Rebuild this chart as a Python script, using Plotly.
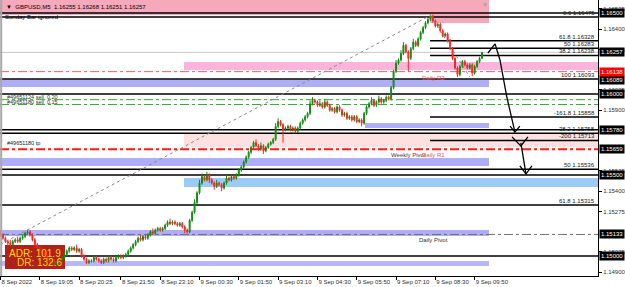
import plotly.graph_objects as go

# ---------------- data ----------------
BASE = 1.15000
PIP = 0.0001

FIRST_OPEN = 15  # pips above BASE
CLOSE = [13, 11, 9, 8, 7, 9, 10, 9, 11, 12,
         14, 15, 13, 10, 7, 5, 4, 2, 0, -2,
         -4, -3, -5, -4, -2, -1, 1, 3, 5, 4,
         5, 3, 4, 0, -2, -4, -3, -3, -1, -2,
         -3, -4, -2, -3, -1, -2, -3, -1, 0, -1,
         0, 1, 3, 5, 7, 9, 11, 10, 12, 11,
         13, 15, 14, 16, 17, 16, 17, 19, 21, 20,
         21, 20, 19, 20, 18, 16, 15, 22, 27, 33,
         39, 45, 49, 47, 50, 47, 45, 43, 45, 44,
         42, 45, 48, 47, 49, 48, 50, 53, 55, 58,
         61, 64, 67, 70, 68, 66, 68, 65, 67, 69,
         70, 72, 80, 83, 81, 78, 79, 80, 78, 79,
         77, 79, 82, 84, 86, 88, 94, 96, 95, 93,
         94, 92, 95, 93, 90, 91, 89, 92, 90, 87,
         88, 85, 86, 84, 86, 83, 84, 82, 88, 92,
         94, 96, 93, 95, 97, 95, 96, 98, 97, 104,
         114, 119, 121, 125, 130, 126, 122, 128, 132, 130,
         134, 138, 141, 144, 146, 148, 145, 142, 143, 139,
         136, 137, 133, 128, 122, 116, 112, 117, 120, 118,
         116, 118, 113, 117, 120, 122, 125.7]
UPPER_WICK = [1, 1, 1, 1, 2, 1, 1, 2, 1, 1,
              1, 1, 1, 1, 1, 1, 1, 1, 1, 1,
              1, 2, 1, 1, 1, 1, 1, 1, 1, 1,
              1, 2, 1, 1, 1, 1, 1, 1, 1, 1,
              1, 1, 1, 1, 1, 1, 1, 1, 1, 1,
              1, 1, 1, 1, 1, 1, 1, 2, 1, 1,
              1, 1, 2, 1, 1, 1, 1, 1, 1, 2,
              1, 1, 1, 1, 1, 1, 1, 1, 1, 2,
              1, 2, 2, 1, 2, 1, 1, 1, 2, 1,
              1, 1, 2, 1, 1, 1, 1, 1, 1, 1,
              1, 1, 1, 1, 2, 1, 2, 1, 1, 1,
              1, 1, 2, 2, 1, 1, 1, 1, 1, 1,
              1, 1, 1, 1, 1, 1, 2, 2, 1, 1,
              2, 1, 2, 1, 1, 1, 1, 1, 1, 1,
              1, 1, 1, 1, 1, 1, 1, 1, 1, 1,
              1, 2, 1, 1, 2, 1, 1, 1, 1, 1,
              1, 2, 1, 2, 2, 1, 1, 1, 2, 1,
              1, 1, 1, 1, 1, 1, 1, 1, 1, 1,
              1, 1, 1, 1, 1, 1, 1, 1, 1, 1,
              1, 1, 1, 1, 1, 1, 0.3]
LOWER_WICK = [1, 1, 1, 2, 1, 1, 1, 1, 1, 1,
              1, 1, 1, 1, 2, 1, 1, 1, 1, 1,
              1, 1, 1, 1, 1, 1, 1, 1, 1, 1,
              1, 1, 1, 1, 1, 1, 1, 1, 1, 1,
              1, 1, 1, 1, 1, 1, 1, 1, 1, 1,
              1, 1, 1, 1, 1, 1, 1, 1, 1, 1,
              1, 1, 1, 1, 1, 1, 1, 1, 1, 1,
              1, 1, 1, 1, 1, 2, 1, 1, 1, 1,
              1, 1, 1, 1, 1, 2, 1, 2, 1, 1,
              2, 1, 1, 1, 1, 1, 1, 1, 1, 1,
              1, 1, 1, 1, 1, 1, 1, 2, 1, 1,
              1, 1, 1, 1, 1, 8, 1, 1, 1, 1,
              1, 1, 1, 1, 1, 1, 1, 1, 1, 1,
              1, 1, 1, 1, 1, 1, 1, 1, 1, 1,
              1, 1, 1, 1, 1, 1, 1, 2, 1, 1,
              1, 1, 1, 1, 1, 1, 1, 1, 1, 1,
              1, 1, 1, 1, 1, 1, 8, 1, 1, 1,
              1, 1, 1, 1, 1, 1, 1, 1, 1, 1,
              1, 1, 1, 1, 1, 1, 1.5, 1, 1, 1,
              1, 1, 2, 1, 1, 1, 0.2]

DATE_TICK_BARS = [0, 16, 32, 49, 65, 81, 97, 113, 129, 145, 161, 177, 193]
DATE_TICK_TEXT = ["8 Sep 2022", "8 Sep 19:05", "8 Sep 20:25", "8 Sep 21:50",
                  "8 Sep 23:10", "9 Sep 00:30", "9 Sep 01:50", "9 Sep 03:10",
                  "9 Sep 04:30", "9 Sep 05:50", "9 Sep 07:10", "9 Sep 08:30",
                  "9 Sep 09:50"]

# visible (or partly visible) right-axis tick labels
PRICE_TICKS = [1.16525, 1.16400, 1.16275, 1.16025, 1.15900,
               1.15525, 1.15400, 1.15275, 1.15025, 1.14900]

BLACK_TAGS = [1.16500, 1.16257, 1.16089, 1.16000, 1.15780, 1.15659, 1.15500, 1.15133, 1.15000]
RED_TAGS = [1.16138]

FULL_LEVELS = [1.16500, 1.16475, 1.16093, 1.16000, 1.15780, 1.15758, 1.15536, 1.15500, 1.15315, 1.15000]
FIB_LEVELS = [1.16328, 1.16283, 1.16238, 1.15858, 1.15713]

FIB_LABELS = [("0.0 1.16475", 1.16475), ("61.8 1.16328", 1.16328), ("50 1.16283", 1.16283),
              ("38.2 1.16238", 1.16238), ("100 1.16093", 1.16093), ("-161.8 1.15858", 1.15858),
              ("38.2 1.15758", 1.15758), ("-200 1.15713", 1.15713), ("50 1.15536", 1.15536),
              ("61.8 1.15315", 1.15315)]

BID = 1.16257
DAILY_R2 = 1.16138
SELL_LEVELS = [1.15965, 1.15935]
TP_LEVEL = 1.15659
DAILY_PIVOT = 1.15133

# zones: (left px, right px, top price, bottom price, colour)
ZONES = [
    (0, 489, 1.165802, 1.164877, "#f5a9bb"),
    (430, 489, 1.164877, 1.164383, "#f5a9bb"),
    (184, 598, 1.161975, 1.161481, "#fbb4da"),
    (0, 489, 1.160895, 1.160432, "#aeaef8"),
    (365, 489, 1.158210, 1.157901, "#aeaef8"),
    (184, 598, 1.157531, 1.156728, "#fde1e1"),
    (0, 489, 1.156049, 1.155556, "#aeaef8"),
    (184, 598, 1.154815, 1.154259, "#9dcbf7"),
    (0, 489, 1.151605, 1.151235, "#aeaef8"),
    (0, 489, 1.149691, 1.149383, "#b6b6f8"),
]

TREND_MAIN = [(0, 1.15072), (175, 1.16485)]
TREND_SMALL = [(175, 1.16485), (191, 1.16105)]

ARROW1 = [(198.4, 1.16253), (201.3, 1.16309), (203.3, 1.16210), (206.1, 1.15981), (209.4, 1.15765)]
HEAD1 = [(207.4, 1.15802), (209.4, 1.15765), (211.4, 1.15802)]
VEE2 = [(208.2, 1.15735), (211.8, 1.15679), (214.7, 1.15735)]
ARROW2 = [(211.8, 1.15698), (213.9, 1.15506)]
HEAD2 = [(211.4, 1.15556), (213.9, 1.15506), (216.3, 1.15556)]

# ---------------- build ----------------
n = len(CLOSE)
opens = [FIRST_OPEN] + CLOSE[:-1]
highs = [max(o, c) + u for o, c, u in zip(opens, CLOSE, UPPER_WICK)]
lows = [min(o, c) - l for o, c, l in zip(opens, CLOSE, LOWER_WICK)]
to_price = lambda arr: [round(BASE + v * PIP, 6) for v in arr]

PLOT_W = 598.0
FONT = "Liberation Sans"

fig = go.Figure()

fig.add_trace(go.Candlestick(
    x=list(range(n)), open=to_price(opens), high=to_price(highs),
    low=to_price(lows), close=to_price(CLOSE),
    increasing=dict(line=dict(color="#138a13", width=1), fillcolor="#1fa51f"),
    decreasing=dict(line=dict(color="#ff2020", width=1), fillcolor="#ff3535"),
    whiskerwidth=0, showlegend=False, hoverinfo="skip"))

def line_trace(pts, color, width, dash="solid"):
    fig.add_trace(go.Scatter(x=[p[0] for p in pts], y=[p[1] for p in pts], mode="lines",
                             line=dict(color=color, width=width, dash=dash),
                             showlegend=False, hoverinfo="skip"))

line_trace(TREND_MAIN, "#8a8a8a", 1, "dot")
line_trace(TREND_SMALL, "#8a8a8a", 1, "dot")
for pts in (ARROW1, HEAD1, VEE2, ARROW2, HEAD2):
    line_trace(pts, "#000000", 1.3)

shapes = []
for x0, x1, top, bot, col in ZONES:
    shapes.append(dict(type="rect", xref="paper", yref="y", x0=x0 / PLOT_W, x1=x1 / PLOT_W,
                       y0=bot, y1=top, fillcolor=col, line=dict(width=0), layer="below"))

def hline(price, x0=0.0, color="#000000", width=1.5, dash="solid"):
    shapes.append(dict(type="line", xref="paper", yref="y", x0=x0, x1=1, y0=price, y1=price,
                       line=dict(color=color, width=width, dash=dash), layer="below"))

hline(BID, color="#c8c8c8", width=1)
hline(DAILY_R2, color="#f06060", width=1, dash="dashdot")
for p in SELL_LEVELS:
    hline(p, color="#3aa83a", width=1, dash="dashdot")
hline(DAILY_PIVOT, color="#707070", width=1, dash="dashdot")
for p in FULL_LEVELS:
    hline(p)
for p in FIB_LEVELS:
    hline(p, x0=430 / PLOT_W)
hline(TP_LEVEL, color="#ff1a1a", width=2.2, dash="dashdot")

# ADR box
shapes.append(dict(type="rect", xref="paper", yref="y", x0=5 / PLOT_W, x1=65 / PLOT_W,
                   y0=1.149198, y1=1.150679, fillcolor="#b0201c", line=dict(width=0), layer="below"))
# left window border
shapes.append(dict(type="line", xref="paper", yref="paper", x0=0.002, x1=0.002, y0=0, y1=1,
                   line=dict(color="#a8a8a8", width=2)))

ann = []
def text(x_px, price, s, color="#202020", size=6, xanchor="left", yanchor="middle", **kw):
    ann.append(dict(xref="paper", yref="y", x=x_px / PLOT_W, y=price, text=s, showarrow=False,
                    xanchor=xanchor, yanchor=yanchor, font=dict(family=FONT, size=size, color=color),
                    **kw))

for s, p in FIB_LABELS:
    text(597, p, s, xanchor="right", yanchor="bottom", yshift=-1)

ann.append(dict(xref="paper", yref="paper", x=4 / PLOT_W, y=1, yanchor="top", xanchor="left",
                text="\u25BC  GBPUSD,M5  1.16255 1.16268 1.16251 1.16257", showarrow=False,
                font=dict(family=FONT, size=6, color="#000000"), yshift=-2))
ann.append(dict(xref="paper", yref="paper", x=3 / PLOT_W, y=1, yanchor="top", xanchor="left",
                text="Sunday Bar ignored", showarrow=False,
                font=dict(family=FONT, size=6, color="#000000"), yshift=-12))
ann.append(dict(xref="paper", yref="paper", x=485 / PLOT_W, y=1, yanchor="top", xanchor="center",
                text="\u25BC", showarrow=False, font=dict(family=FONT, size=6, color="#a0a0a0")))

text(5, 1.15963, "#49651124 sell  0.20", color="#303030", size=5.5, yanchor="bottom", yshift=-2)
text(5, 1.15932, "#49651180 sell  0.15", color="#303030", size=5.5, yanchor="bottom", yshift=-2)
text(5, TP_LEVEL, "#49651180 tp", color="#202020", size=5.5, yanchor="bottom", yshift=1)
text(420, DAILY_R2, "Daily R2", color="#f05050", size=6, yanchor="top", yshift=-1)
text(389, TP_LEVEL, "Weekly Pivot", color="#404040", size=6, yanchor="top", yshift=-1)
text(420, TP_LEVEL, "Daily R1", color="#f05050", size=6, yanchor="top", yshift=-1)
text(417, DAILY_PIVOT, "Daily Pivot", color="#303030", size=6, yanchor="top", yshift=-1)
text(7, 1.150185, "ADR: 101.9", color="#ffd700", size=10)
text(15, 1.149568, "DR: 132.6", color="#ffd700", size=10)

for p in BLACK_TAGS:
    ann.append(dict(xref="paper", yref="y", x=1, y=p, xanchor="left", xshift=1, text=f"{p:.5f}",
                    showarrow=False, bgcolor="#000000", borderpad=1,
                    font=dict(family=FONT, size=6, color="#ffffff")))
for p in RED_TAGS:
    ann.append(dict(xref="paper", yref="y", x=1, y=p, xanchor="left", xshift=1, text=f"{p:.5f}",
                    showarrow=False, bgcolor="#ff0000", borderpad=1,
                    font=dict(family=FONT, size=6, color="#ffffff")))

fig.update_layout(
    width=625, height=287, margin=dict(l=0, r=27, t=0, b=11, autoexpand=False),
    paper_bgcolor="#ffffff", plot_bgcolor="#ffffff",
    shapes=shapes, annotations=ann, boxgap=0.45,
    font=dict(family=FONT, size=6, color="#303030"),
    xaxis=dict(range=[-0.2, 243.2], tickvals=DATE_TICK_BARS, ticktext=DATE_TICK_TEXT,
               tickangle=0, automargin=False,
               ticks="outside", ticklen=3, tickcolor="#000000", ticklabelposition="outside right",
               tickfont=dict(family=FONT, size=6, color="#303030"), showline=True,
               linecolor="#000000", linewidth=1, showgrid=False, zeroline=False,
               rangeslider=dict(visible=False), fixedrange=True),
    yaxis=dict(range=[1.148765, 1.165802], side="right", tickvals=PRICE_TICKS, automargin=False,
               ticktext=[f"{v:.5f}" for v in PRICE_TICKS], ticks="outside", ticklen=3,
               tickcolor="#000000", tickfont=dict(family=FONT, size=6, color="#303030"),
               showline=True, linecolor="#000000", linewidth=1, showgrid=False,
               zeroline=False, fixedrange=True),
)

fig.write_html("out.html")
